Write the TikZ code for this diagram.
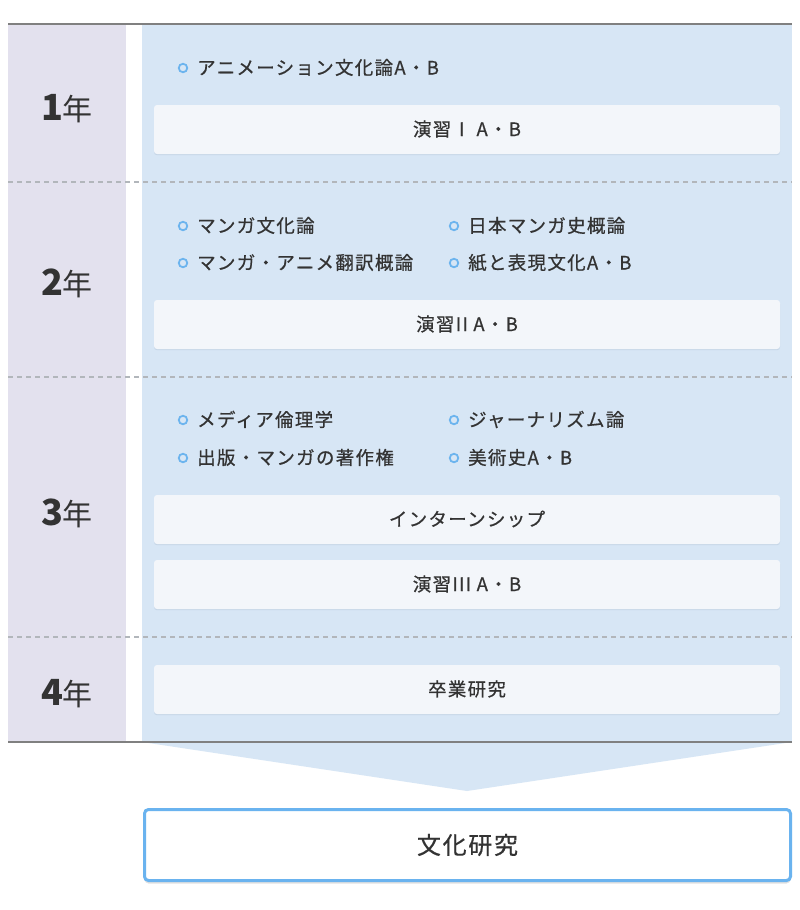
\documentclass[tikz,border=0pt]{standalone}
\usepackage{fontspec}
\setmainfont{Noto Sans CJK JP}[LetterSpace=7.0, FakeBold=0.6]
\newfontfamily\yearfont{Noto Sans CJK JP}
\usetikzlibrary{shadows}
\definecolor{lav}{HTML}{E3E1EE}
\definecolor{panel}{HTML}{D7E6F5}
\definecolor{boxfill}{HTML}{F3F6FA}
\definecolor{boxshade}{HTML}{C6D6E7}
\definecolor{bulletc}{HTML}{6CB4EE}
\definecolor{txt}{HTML}{333333}
\definecolor{rulec}{HTML}{808080}
\definecolor{dashc}{HTML}{B2B6BB}
\definecolor{finalc}{HTML}{6AB3EF}
\tikzset{
  itembox/.style={rectangle, rounded corners=3pt, fill=boxfill, minimum width=626pt, minimum height=49pt, inner sep=0pt,
    preaction={fill=boxshade, transform canvas={yshift=-1.2pt}}},
  boxlabel/.style={text=txt, font=\fontsize{18.5}{22}\selectfont, inner sep=0pt, anchor=base},
  bulletring/.style={circle, draw=bulletc, fill=panel, line width=1.8pt, minimum size=8.5pt, inner sep=0pt},
  itemtext/.style={text=txt, font=\fontsize{18.5}{22}\selectfont, inner sep=0pt, anchor=base west},
  yearlabel/.style={text=txt, inner sep=0pt, anchor=base},
  dashline/.style={draw=dashc, line width=1.4pt, dash pattern=on 5pt off 4pt},
  rule/.style={draw=rulec, line width=2pt},
  finalbox/.style={rectangle, rounded corners=4pt, draw=finalc, line width=3pt, fill=white, minimum width=646pt, minimum height=71pt, inner sep=0pt,
    drop shadow={shadow xshift=0pt, shadow yshift=-3pt, opacity=0.12, fill=black}},
}
\newcommand{\yr}[1]{{\yearfont\fontsize{36}{36}\selectfont\bfseries #1}{\yearfont\fontsize{30}{30}\selectfont 年}}
\begin{document}
\begin{tikzpicture}[x=1pt,y=-1pt]
\useasboundingbox (0,0) rectangle (800,910);
\fill[white] (0,0) rectangle (800,910);
% columns
\fill[lav] (8,24) rectangle (126,742);
\fill[panel] (142,24) rectangle (792,742);
\fill[panel] (142,742) -- (792,742) -- (467,791) -- cycle;
% separators
\draw[dashline] (8,182) -- (792,182);
\draw[dashline] (8,377) -- (792,377);
\draw[dashline] (8,637) -- (792,637);
\draw[rule] (8,24) -- (792,24);
\draw[rule] (8,742) -- (792,742);
% year labels
\node[yearlabel] (y1) at (67,120) {\yr{1}};
\node[yearlabel] (y2) at (67,295) {\yr{2}};
\node[yearlabel] (y3) at (67,525) {\yr{3}};
\node[yearlabel] (y4) at (67,705) {\yr{4}};
% year 1
\node[bulletring] (b11) at (183,68) {};
\node[itemtext] (t11) at (197,74.5) {アニメーション文化論A・B};
\node[itembox] (e1) at (467,129.5) {};
\node[boxlabel] (l1) at (467,136) {演習Ⅰ A・B};
% year 2
\node[bulletring] (b21) at (183,226) {};
\node[itemtext] (t21) at (197,232.5) {マンガ文化論};
\node[bulletring] (b22) at (454,226) {};
\node[itemtext] (t22) at (468,232.5) {日本マンガ史概論};
\node[bulletring] (b23) at (183,263) {};
\node[itemtext] (t23) at (197,269.5) {マンガ・アニメ翻訳概論};
\node[bulletring] (b24) at (454,263) {};
\node[itemtext] (t24) at (468,269.5) {紙と表現文化A・B};
\node[itembox] (e2) at (467,324.5) {};
\node[boxlabel] (l2) at (467,331) {演習II A・B};
% year 3
\node[bulletring] (b31) at (183,420) {};
\node[itemtext] (t31) at (197,426.5) {メディア倫理学};
\node[bulletring] (b32) at (454,420) {};
\node[itemtext] (t32) at (468,426.5) {ジャーナリズム論};
\node[bulletring] (b33) at (183,458) {};
\node[itemtext] (t33) at (197,464.5) {出版・マンガの著作権};
\node[bulletring] (b34) at (454,458) {};
\node[itemtext] (t34) at (468,464.5) {美術史A・B};
\node[itembox] (i3) at (467,519.5) {};
\node[boxlabel] (l3) at (467,526) {インターンシップ};
\node[itembox] (e3) at (467,584.5) {};
\node[boxlabel] (l4) at (467,591) {演習III A・B};
% year 4
\node[itembox] (s4) at (467,689.5) {};
\node[boxlabel] (l5) at (467,696) {卒業研究};
% result
\node[finalbox] (fin) at (467.5,845) {};
\node[text=txt, font=\fontsize{24}{28}\selectfont, inner sep=0pt, anchor=base] (fint) at (467.5,854) {文化研究};
\end{tikzpicture}
\end{document}
